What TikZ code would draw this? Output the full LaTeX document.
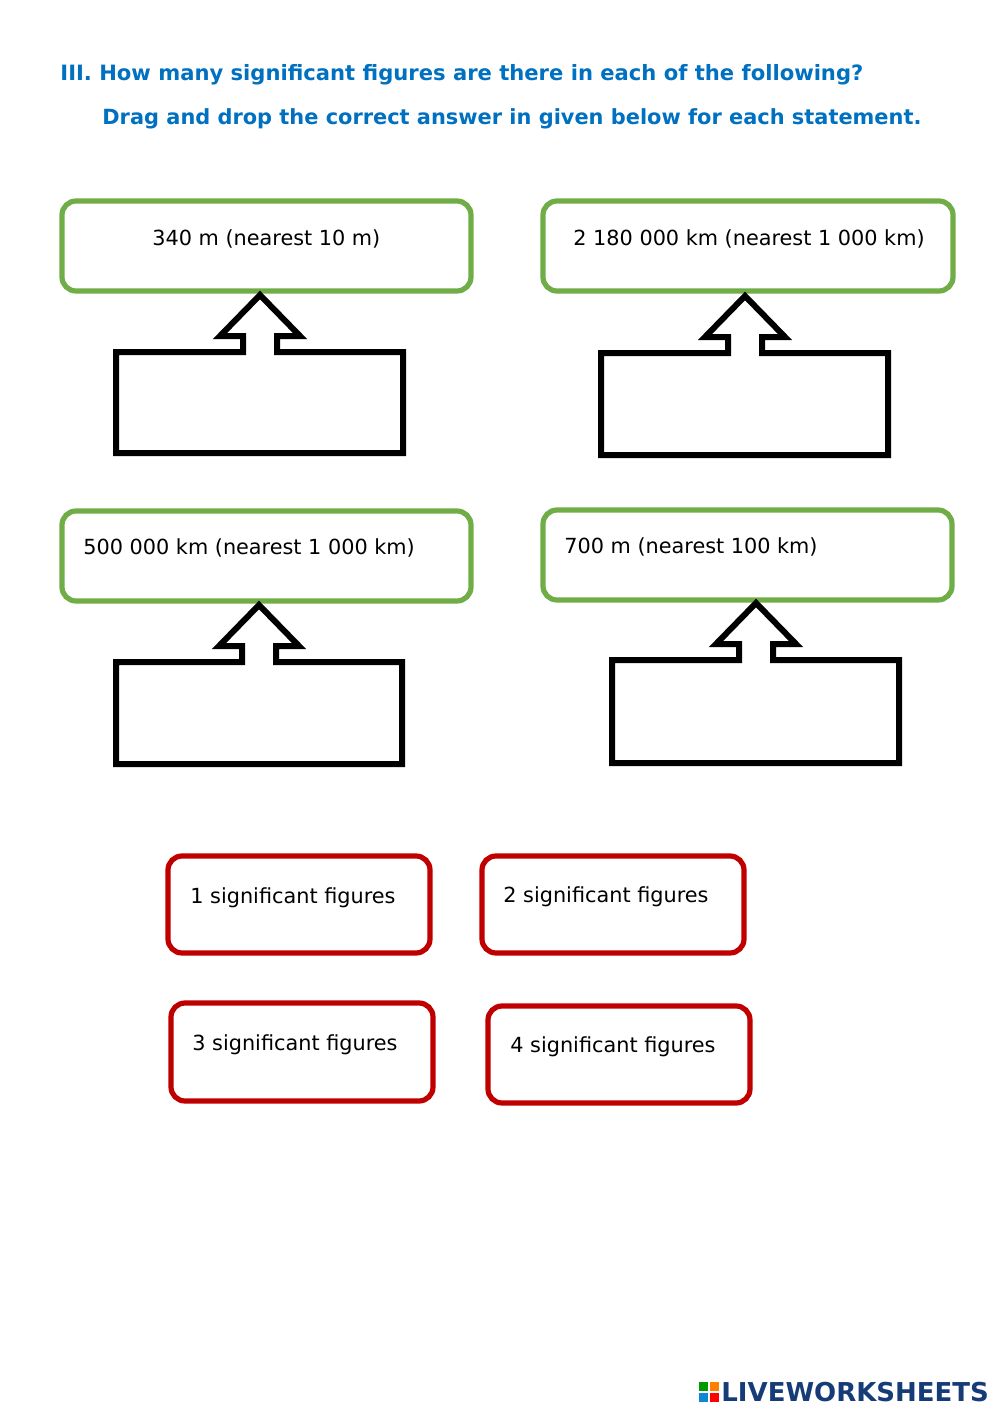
\documentclass[tikz,border=0pt]{standalone}
\usepackage{fontspec}
\setmainfont{DejaVu Sans}
\usetikzlibrary{positioning}

\definecolor{boxgreen}{RGB}{112,173,71}
\definecolor{boxred}{RGB}{192,0,0}
\definecolor{headblue}{RGB}{0,112,192}
\definecolor{logoblue}{RGB}{22,60,120}

\tikzset{
  question/.style={draw=boxgreen, line width=2.6pt, rounded corners=7pt},
  answer/.style={draw=boxred, line width=2.6pt, rounded corners=7pt},
  callout/.style={draw=black, line width=3pt, line join=miter},
  label/.style={font=\fontsize{10.4}{12}\selectfont, anchor=west, inner sep=0pt},
}

% callout: left, right, top, bottom, tip x
\newcommand{\dropbox}[5]{%
  \draw[callout] (#1,#3) -- (#5-17,#3) -- (#5-17,#3-16) -- (#5-40,#3-16)
    -- (#5,#3-57) -- (#5+40,#3-16) -- (#5+17,#3-16) -- (#5+17,#3)
    -- (#2,#3) -- (#2,#4) -- (#1,#4) -- cycle;}

\begin{document}
\begin{tikzpicture}[x=0.5pt,y=-0.5pt]
\useasboundingbox (0,0) rectangle (1000,1413);

% heading
\node[anchor=west, inner sep=0pt, text=headblue, font=\bfseries\fontsize{10.55}{12}\selectfont]
  (title) at (60,75) {III. How many significant figures are there in each of the following?};
\node[anchor=west, inner sep=0pt, text=headblue, font=\bfseries\fontsize{10.45}{12}\selectfont]
  (subtitle) at (102,119) {Drag and drop the correct answer in given below for each statement.};

% statements
\draw[question] (62,201) rectangle (471,291);
\node[label] (qa) at (152,239) {340 m (nearest 10 m)};
\draw[question] (543,201) rectangle (953,291);
\node[label] (qb) at (573,239) {2 180 000 km (nearest 1 000 km)};
\draw[question] (62,511) rectangle (471,601);
\node[label] (qc) at (83,548) {500 000 km (nearest 1 000 km)};
\draw[question] (543,510) rectangle (952,600);
\node[label] (qd) at (564,547) {700 m (nearest 100 km)};

% drop boxes
\dropbox{116}{403}{352}{453}{260}
\dropbox{601}{888}{353}{455}{745}
\dropbox{116}{402}{662}{764}{259}
\dropbox{612}{899}{660}{763}{756}

% answers
\draw[answer] (168,856) rectangle (430,953);
\node[label] (aa) at (190,898) {1 significant figures};
\draw[answer] (482,856) rectangle (744,953);
\node[label] (ab) at (503,897) {2 significant figures};
\draw[answer] (171,1003) rectangle (433,1101);
\node[label] (ac) at (192,1045) {3 significant figures};
\draw[answer] (488,1006) rectangle (750,1103);
\node[label] (ad) at (510,1047) {4 significant figures};

% logo
\fill[green!60!black] (699,1382) rectangle (708,1391);
\fill[orange] (710,1382) rectangle (719,1391);
\fill[cyan!70!blue] (699,1393) rectangle (708,1402);
\fill[red] (710,1393) rectangle (719,1402);
\node[anchor=west, inner sep=0pt, text=logoblue, font=\bfseries\fontsize{13}{14}\selectfont]
  (logo) at (721,1392) {LIVEWORKSHEETS};
\end{tikzpicture}
\end{document}
